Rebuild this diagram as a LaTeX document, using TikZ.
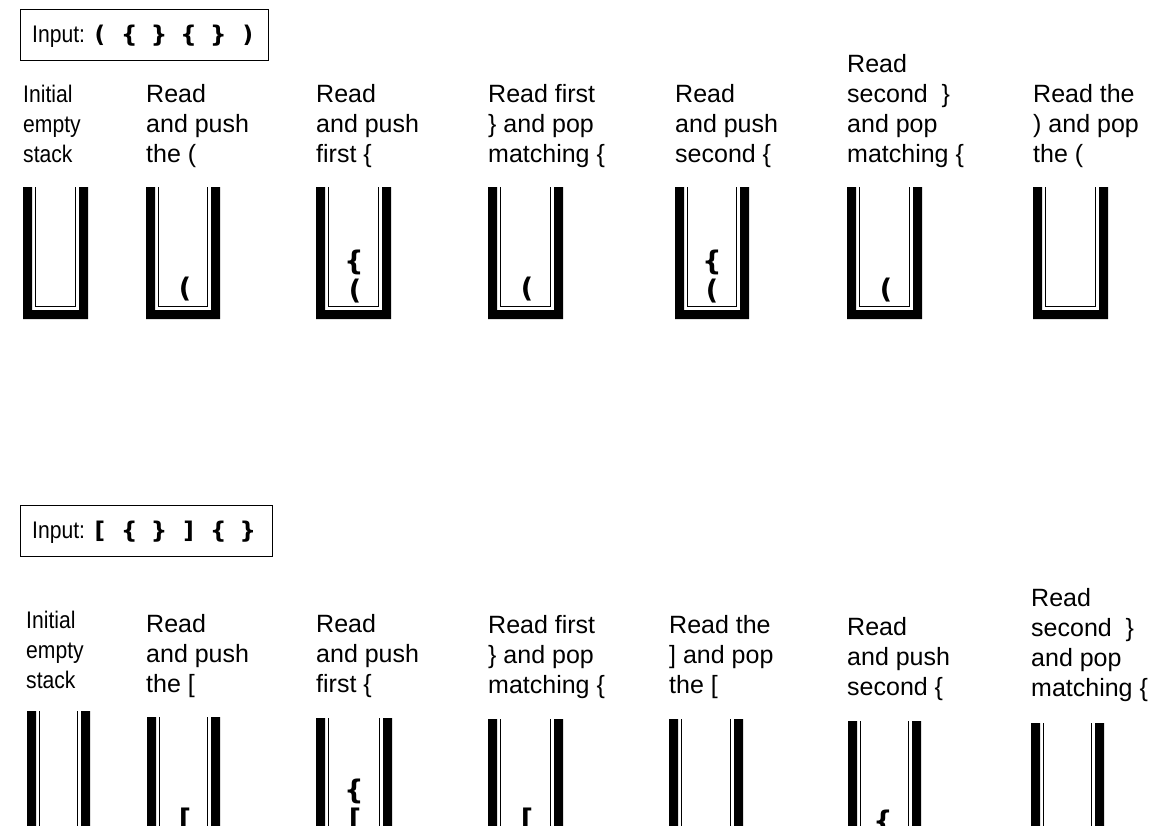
\documentclass[tikz,border=0pt]{standalone}
\usepackage{fontspec}
\setmainfont{Liberation Sans}
\newfontfamily\condfont[FakeStretch=0.88]{Liberation Sans}
\newfontfamily\brfont{DejaVu Sans}
\newcommand{\lab}[1]{\vtop{\halign{##\hfil\cr#1\crcr}}}
\newcommand{\stackU}[3]{%
  \fill (#1,#3) -- (#1,#3+132) -- (#2,#3+132) -- (#2,#3) -- (#2-9,#3) -- (#2-9,#3+123) -- (#1+9,#3+123) -- (#1+9,#3) -- cycle;
  \draw[thinwall] (#1+12.5,#3) -- (#1+12.5,#3+119.5) -- (#2-12.5,#3+119.5) -- (#2-12.5,#3);
}
\newcommand{\bx}[1]{\makebox[29.6pt]{#1}}
\tikzset{
  thinwall/.style={line width=1.3pt},
  lbl/.style={anchor=base west, inner sep=0pt, font=\fontsize{25}{30}\selectfont},
  lblc/.style={anchor=base west, inner sep=0pt, font=\condfont\fontsize{24}{30}\selectfont},
  item/.style={inner sep=0pt, font=\brfont\bfseries\fontsize{27}{27}\selectfont},
  inbox/.style={draw, line width=1.3pt, anchor=north west, minimum width=248pt, minimum height=51pt, inner sep=0pt},
  intext/.style={anchor=base west, inner sep=0pt, font=\fontsize{24}{24}\selectfont},
}
\begin{document}
\begin{tikzpicture}[x=1pt,y=-1pt]
\useasboundingbox (0,0) rectangle (1166,825);
\clip (0,0) rectangle (1166,825);
% ---------- top row ----------
\node[inbox] (box1) at (20,9) {};
\node[intext] (in1) at (32,42) {{\condfont Input:}{\brfont\bfseries\fontsize{23}{23}\selectfont\bx{(}\bx{\{}\bx{\}}\bx{\{}\bx{\}}\bx{)}}};
\node[lblc] (t1) at (23,102) {\lab{Initial\cr empty\cr stack}};
\node[lbl] (t2) at (146,102) {\lab{Read\cr and push\cr the (}};
\node[lbl] (t3) at (316,102) {\lab{Read\cr and push\cr first \{}};
\node[lbl] (t4) at (488,102) {\lab{Read first\cr \} and pop\cr matching \{}};
\node[lbl] (t5) at (675,102) {\lab{Read\cr and push\cr second \{}};
\node[lbl] (t6) at (847,72) {\lab{Read\cr second~~\}\cr and pop\cr matching \{}};
\node[lbl] (t7) at (1033,102) {\lab{Read the\cr ) and pop\cr the (}};
\stackU{23}{88}{187}
\stackU{146}{220}{187}
\stackU{316}{391}{187}
\stackU{488}{563}{187}
\stackU{675}{749}{187}
\stackU{847}{922}{187}
\stackU{1033}{1108}{187}
\node[item] (s2a) at (185,289) {(};
\node[item] (s3b) at (354,262) {\{};
\node[item] (s3a) at (355,291) {(};
\node[item] (s4a) at (527,289) {(};
\node[item] (s5b) at (712,262) {\{};
\node[item] (s5a) at (712,291) {(};
\node[item] (s6a) at (886,290) {(};
% ---------- bottom row ----------
\node[inbox, minimum width=252pt] (box2) at (20,505) {};
\node[intext] (in2) at (32,538) {{\condfont Input:}{\brfont\bfseries\fontsize{23}{23}\selectfont\bx{[}\bx{\{}\bx{\}}\bx{]}\bx{\{}\bx{\}}}};
\node[lblc] (b1) at (26,628) {\lab{Initial\cr empty\cr stack}};
\node[lbl] (b2) at (146,632) {\lab{Read\cr and push\cr the [}};
\node[lbl] (b3) at (316,632) {\lab{Read\cr and push\cr first \{}};
\node[lbl] (b4) at (488,633) {\lab{Read first\cr \} and pop\cr matching \{}};
\node[lbl] (b5) at (669,633) {\lab{Read the\cr ] and pop\cr the [}};
\node[lbl] (b6) at (847,635) {\lab{Read\cr and push\cr second \{}};
\node[lbl] (b7) at (1031,606) {\lab{Read\cr second~~\}\cr and pop\cr matching \{}};
\stackU{27}{90}{711}
\stackU{147}{220}{717}
\stackU{316}{392}{718}
\stackU{488}{563}{719}
\stackU{669}{743}{719}
\stackU{848}{921}{721}
\stackU{1031}{1104}{723}
\node[item] (r2a) at (185,820) {[};
\node[item] (r3b) at (354,791) {\{};
\node[item] (r3a) at (355,820) {[};
\node[item] (r4a) at (527,820) {[};
\node[item] (r6a) at (883,822) {\{};
\end{tikzpicture}
\end{document}
